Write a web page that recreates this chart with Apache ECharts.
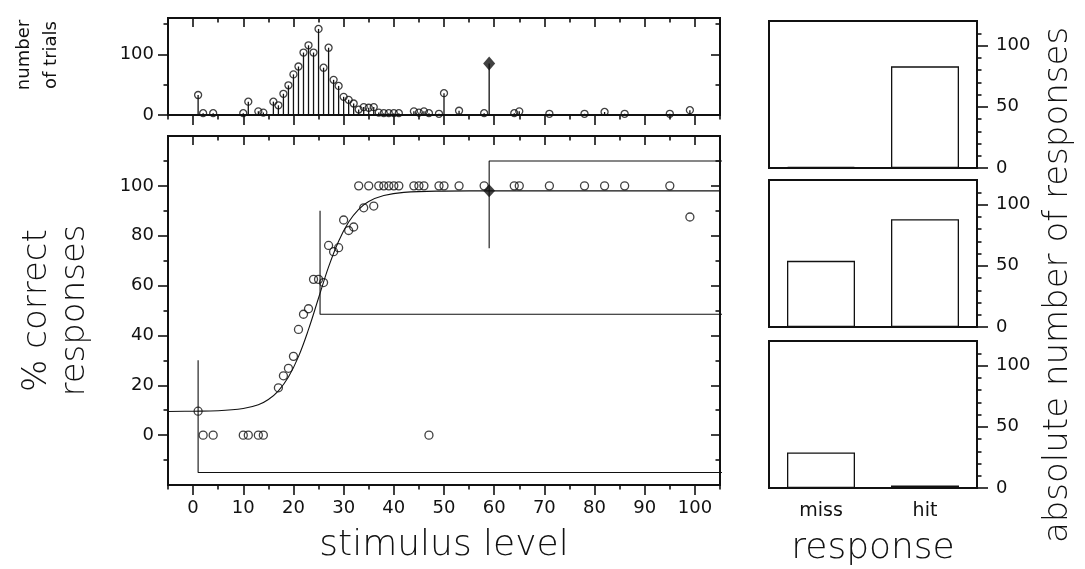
<!DOCTYPE html>
<html>
<head>
<meta charset="utf-8">
<script src="https://cdn.jsdelivr.net/npm/echarts@6/dist/echarts.min.js"></script>
<style>html,body{margin:0;padding:0;background:#fff;}#c{width:1085px;height:569px;}</style>
</head>
<body>
<div id="c"></div>
<script>
// ---------- data ----------
const stimulus   = [1, 2, 4, 10, 11, 13, 14, 17, 18, 19, 20, 21, 22, 23, 24, 25, 26, 27, 28, 29, 30, 31, 32, 33, 34, 35, 36, 37, 38, 39, 40, 41, 44, 45, 46, 47, 49, 50, 53, 58, 64, 65, 71, 78, 82, 86, 95, 99];
const pctCorrect = [9.6, 0, 0, 0, 0, 0, 0, 19, 23.8, 26.8, 31.6, 42.4, 48.5, 50.7, 62.5, 62.5, 61.2, 76.1, 73.6, 75.2, 86.3, 82.1, 83.5, 100, 91.2, 100, 91.9, 100, 100, 100, 100, 100, 100, 100, 100, 0, 100, 100, 100, 100, 100, 100, 100, 100, 100, 100, 100, 87.5];

const trialLevels = [1, 2, 4, 10, 11, 13, 14, 16, 17, 18, 19, 20, 21, 22, 23, 24, 25, 26, 27, 28, 29, 30, 31, 32, 33, 34, 35, 36, 37, 38, 39, 40, 41, 44, 45, 46, 47, 49, 50, 53, 58, 64, 65, 71, 78, 82, 86, 95, 99];
const trialCounts = [33, 3, 3, 3, 22, 6, 4, 22, 16, 35, 49, 67, 80, 103, 115, 103, 142, 78, 111, 58, 48, 30, 25, 19, 9, 13, 12, 13, 4, 3, 3, 3, 3, 6, 4, 6, 3, 2, 36, 7, 3, 3, 6, 2, 2, 5, 2, 2, 8];

// last (filled diamond) trial block
const lastLevel = [59];
const lastPct = [98];
const lastTrials = [85];

// fitted psychometric curve
const fitX = [-5, 0, 5, 10, 13, 15, 17, 19, 21, 23, 25, 27, 29, 31, 33, 35, 38, 42, 50, 60, 80, 105];
const fitY = [9.5, 9.6, 9.8, 10.7, 12.2, 14.3, 17.8, 23.3, 31.5, 42.4, 55, 67.5, 77.8, 85.5, 90.6, 93.7, 96.1, 97.4, 97.9, 98, 98, 98];

// guide lines linking the main plot to the response panels
const guideHighX = [59, 59, 113.2];
const guideHighY = [75, 110, 110];
const guideMidX = [25.3, 25.3, 113.2];
const guideMidY = [90, 48.5, 48.5];
const guideLowX = [1, 1, 113.2];
const guideLowY = [30, -15, -15];

// response panels
const responseCats = ['miss', 'hit'];
const panelTop = [1, 83];
const panelMid = [54, 88];
const panelLow = [29, 2];

// ticks
const xMajor = [0, 10, 20, 30, 40, 50, 60, 70, 80, 90, 100];
const xMinor = [-5, 5, 15, 25, 35, 45, 55, 65, 75, 85, 95, 105];
const yMainMajor = [0, 20, 40, 60, 80, 100];
const yMainMinor = [-10, 10, 30, 50, 70, 90, 110];
const yHistMajor = [0, 100];
const yHistMinor = [50, 150];
const yPanelMajor = [0, 50, 100];
const yPanelMinor = [10, 20, 30, 40, 60, 70, 80, 90, 110];

// ---------- chart ----------
const FONT = 'DejaVu Sans';
const INK = '#111';
const MAJ = 9, MIN = 4.5;

function zip(a, b) { return a.map((v, i) => [v, b[i]]); }

function valAxis(grid, pos, min, max, ticks, len, inside, labels, extra) {
  const ax = {
    type: 'value', gridIndex: grid, position: pos, min: min, max: max,
    splitLine: { show: false },
    axisLine: { show: false, onZero: false },
    axisTick: { show: true, inside: inside, length: len, customValues: ticks,
                lineStyle: { color: INK, width: 1.6 } },
    axisLabel: labels ? { show: true, customValues: labels, fontFamily: FONT, fontSize: 18,
                          color: INK, margin: 14 } : { show: false }
  };
  return Object.assign(ax, extra || {});
}

const gridHist = { left: 168, top: 18, width: 552, height: 97 };
const gridMain = { left: 168, top: 136, width: 552, height: 352 };
const panelGrids = [
  { left: 769, top: 21, width: 208, height: 147 },
  { left: 769, top: 180, width: 208, height: 147 },
  { left: 769, top: 341, width: 208, height: 147 }
];
const grids = [gridHist, gridMain].concat(panelGrids).map(g =>
  Object.assign({ show: true, borderColor: INK, borderWidth: 2, backgroundColor: 'transparent' }, g));

const xAxes = [
  valAxis(0, 'bottom', -5, 105, xMajor, MAJ + 1, false, null),
  valAxis(0, 'bottom', -5, 105, xMinor, MIN, false, null),
  valAxis(0, 'top', -5, 105, xMajor, MAJ, true, null),
  valAxis(0, 'top', -5, 105, xMinor, MIN, true, null),
  valAxis(1, 'bottom', -5, 105, xMajor, MAJ + 1, false, xMajor, {
    name: 'stimulus level', nameLocation: 'middle', nameGap: 43,
    nameTextStyle: { fontFamily: FONT, fontSize: 36, color: INK, fontWeight: 200 } }),
  valAxis(1, 'bottom', -5, 105, xMinor, MIN, false, null),
  valAxis(1, 'top', -5, 105, xMajor, MAJ, true, null),
  valAxis(1, 'top', -5, 105, xMinor, MIN, true, null)
];
for (let p = 0; p < 3; p++) {
  const last = p === 2;
  xAxes.push({
    type: 'category', gridIndex: 2 + p, position: 'bottom', data: responseCats,
    axisLine: { show: false, onZero: false }, axisTick: { show: false }, splitLine: { show: false },
    axisLabel: { show: last, fontFamily: FONT, fontSize: 19, color: INK, margin: 14 },
    name: last ? 'response' : '', nameLocation: 'middle', nameGap: 43,
    nameTextStyle: { fontFamily: FONT, fontSize: 36, color: INK, fontWeight: 200 }
  });
}

const yAxes = [
  valAxis(0, 'left', 0, 160, yHistMajor, MAJ + 1, false, yHistMajor),
  valAxis(0, 'left', 0, 160, yHistMinor, MIN, false, null),
  valAxis(0, 'right', 0, 160, yHistMajor, MAJ, true, null),
  valAxis(0, 'right', 0, 160, yHistMinor, MIN, true, null),
  valAxis(1, 'left', -20, 120, yMainMajor, MAJ + 1, false, yMainMajor, {
    name: '% correct\nresponses', nameLocation: 'middle', nameGap: 74, nameRotate: 90,
    nameTextStyle: { fontFamily: FONT, fontSize: 34, color: INK, lineHeight: 38, fontWeight: 200 } }),
  valAxis(1, 'left', -20, 120, yMainMinor, MIN, false, null),
  valAxis(1, 'right', -20, 120, yMainMajor, MAJ, true, null),
  valAxis(1, 'right', -20, 120, yMainMinor, MIN, true, null)
];
for (let p = 0; p < 3; p++) {
  yAxes.push(valAxis(2 + p, 'right', 0, 120, yPanelMajor, 11, false, yPanelMajor,
    { axisLabel: { show: true, customValues: yPanelMajor, fontFamily: FONT, fontSize: 18, color: INK, margin: 19 } }));
  yAxes.push(valAxis(2 + p, 'right', 0, 120, yPanelMinor, MIN, false, null));
}

const openCircle = { color: 'rgba(0,0,0,0)', borderColor: INK, borderWidth: 1.3 };
const guideStyle = { color: INK, width: 1.1 };

function guide(xs, ys) {
  return { type: 'line', xAxisIndex: 4, yAxisIndex: 4, data: zip(xs, ys), clip: false,
           symbol: 'none', lineStyle: guideStyle, silent: true, z: 3 };
}

const panelData = [panelTop, panelMid, panelLow];
const series = [
  { type: 'bar', xAxisIndex: 0, yAxisIndex: 0, data: zip(trialLevels.concat(lastLevel), trialCounts.concat(lastTrials)),
    barWidth: 1.3, itemStyle: { color: INK }, z: 2 },
  { type: 'scatter', xAxisIndex: 0, yAxisIndex: 0, data: zip(trialLevels, trialCounts),
    symbol: 'circle', symbolSize: 7, itemStyle: openCircle, z: 4 },
  { type: 'scatter', xAxisIndex: 0, yAxisIndex: 0, data: zip(lastLevel, lastTrials),
    symbol: 'diamond', symbolSize: [12, 14], itemStyle: { color: INK }, z: 5 },
  { type: 'line', xAxisIndex: 4, yAxisIndex: 4, data: zip(fitX, fitY), smooth: 0.4,
    symbol: 'none', lineStyle: { color: INK, width: 1.1 }, z: 3 },
  guide(guideHighX, guideHighY),
  guide(guideMidX, guideMidY),
  guide(guideLowX, guideLowY),
  { type: 'scatter', xAxisIndex: 4, yAxisIndex: 4, data: zip(stimulus, pctCorrect),
    symbol: 'circle', symbolSize: 8, itemStyle: openCircle, z: 4 },
  { type: 'scatter', xAxisIndex: 4, yAxisIndex: 4, data: zip(lastLevel, lastPct),
    symbol: 'diamond', symbolSize: [12, 13], itemStyle: { color: INK }, z: 5 }
];
for (let p = 0; p < 3; p++) {
  series.push({ type: 'bar', xAxisIndex: 8 + p, yAxisIndex: 8 + 2 * p, data: panelData[p],
    barWidth: 68, itemStyle: { color: '#fff', borderColor: INK, borderWidth: 1.3 } });
}

const chart = echarts.init(document.getElementById('c'), null, { renderer: 'canvas' });
chart.setOption({
  backgroundColor: '#fff',
  animation: false,
  grid: grids,
  xAxis: xAxes,
  yAxis: yAxes,
  series: series,
  graphic: [{
    type: 'text', x: 1058, y: 285, rotation: Math.PI / 2,
    style: { text: 'absolute number of responses', fontFamily: FONT, fontSize: 34, fontWeight: 200,
             fill: INK, align: 'center', verticalMiddle: 'middle', verticalAlign: 'middle' }
  }, {
    type: 'text', x: 38, y: 55, rotation: Math.PI / 2,
    style: { text: 'number\nof trials', fontFamily: FONT, fontSize: 18, lineHeight: 27,
             fill: INK, align: 'center', verticalAlign: 'middle' }
  }]
});
</script>
</body>
</html>
